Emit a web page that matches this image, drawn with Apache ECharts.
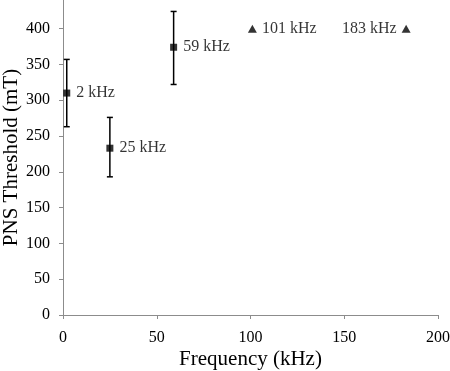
<!DOCTYPE html>
<html>
<head>
<meta charset="utf-8">
<script src="https://cdn.jsdelivr.net/npm/echarts@6/dist/echarts.min.js"></script>
<style>
html, body { margin: 0; padding: 0; background: #fff; }
#chart { width: 450px; height: 371px; }
</style>
</head>
<body>
<div id="chart"></div>
<script>
// measured points: frequency (kHz), threshold (mT), error bar low/high
var freqs = [2, 25, 59];
var thresholds = [310, 233, 374];
var errLow = [263, 193, 322];
var errHigh = [357, 276, 424];
var pointLabels = ['2 kHz', '25 kHz', '59 kHz'];

// no threshold reached: plotted at the top
var limFreqs = [101, 183];
var limValues = [400, 400];
var limLabels = ['101 kHz', '183 kHz'];

var xTicks = [0, 50, 100, 150, 200];
var yTicks = [0, 50, 100, 150, 200, 250, 300, 350, 400];

var font = '"Liberation Serif", "Times New Roman", serif';
var axisGray = '#8c8c8c';

var pointData = freqs.map(function (f, i) {
	return { value: [f, thresholds[i]], label: { formatter: pointLabels[i] } };
});
var errData = freqs.map(function (f, i) {
	return [f, errLow[i], errHigh[i]];
});
var limData = limFreqs.map(function (f, i) {
	return {
		value: [f, limValues[i]],
		label: { formatter: limLabels[i], position: i === 1 ? 'left' : 'right' }
	};
});

var option = {
	animation: false,
	grid: {
		left: 63, right: 12, top: 0, bottom: 56,
		containLabel: false, outerBoundsMode: 'none'
	},
	xAxis: {
		type: 'value',
		min: xTicks[0],
		max: xTicks[xTicks.length - 1],
		interval: 50,
		name: 'Frequency (kHz)',
		nameLocation: 'middle',
		nameGap: 34,
		nameMoveOverlap: false,
		nameTextStyle: { fontFamily: font, fontSize: 21, color: '#000' },
		axisLine: { lineStyle: { color: axisGray } },
		axisTick: { show: true, length: 4, lineStyle: { color: axisGray } },
		axisLabel: { fontFamily: font, fontSize: 16, color: '#000', margin: 15 },
		splitLine: { show: false }
	},
	yAxis: {
		type: 'value',
		min: yTicks[0],
		max: 440,
		interval: 50,
		name: 'PNS Threshold (mT)',
		nameLocation: 'middle',
		nameGap: 41,
		nameMoveOverlap: false,
		nameTextStyle: { fontFamily: font, fontSize: 21, color: '#000' },
		axisLine: { show: true, lineStyle: { color: axisGray } },
		axisTick: { show: true, length: 4, lineStyle: { color: axisGray } },
		axisLabel: {
			fontFamily: font, fontSize: 16, color: '#000', margin: 13,
			showMaxLabel: false
		},
		splitLine: { show: false }
	},
	series: [
		{
			type: 'custom',
			data: errData,
			renderItem: function (params, api) {
				var x = api.value(0);
				var lo = api.coord([x, api.value(1)]);
				var hi = api.coord([x, api.value(2)]);
				var w = 3;
				var style = { stroke: '#000', lineWidth: 1.5 };
				return {
					type: 'group',
					children: [
						{ type: 'line', shape: { x1: hi[0], y1: hi[1], x2: lo[0], y2: lo[1] }, style: style },
						{ type: 'line', shape: { x1: hi[0] - w, y1: hi[1], x2: hi[0] + w, y2: hi[1] }, style: style },
						{ type: 'line', shape: { x1: lo[0] - w, y1: lo[1], x2: lo[0] + w, y2: lo[1] }, style: style }
					]
				};
			},
			z: 1
		},
		{
			type: 'scatter',
			data: pointData,
			symbol: 'rect',
			symbolSize: 7,
			itemStyle: { color: '#000' },
			label: {
				show: true, position: 'right', distance: 6,
				fontFamily: font, fontSize: 16, color: '#000'
			},
			z: 2
		},
		{
			type: 'scatter',
			data: limData,
			symbol: 'triangle',
			symbolSize: [9, 8],
			itemStyle: { color: '#000' },
			label: {
				show: true, distance: 5,
				fontFamily: font, fontSize: 16, color: '#000'
			},
			z: 2
		}
	]
};

echarts.init(document.getElementById('chart')).setOption(option);
</script>
</body>
</html>
